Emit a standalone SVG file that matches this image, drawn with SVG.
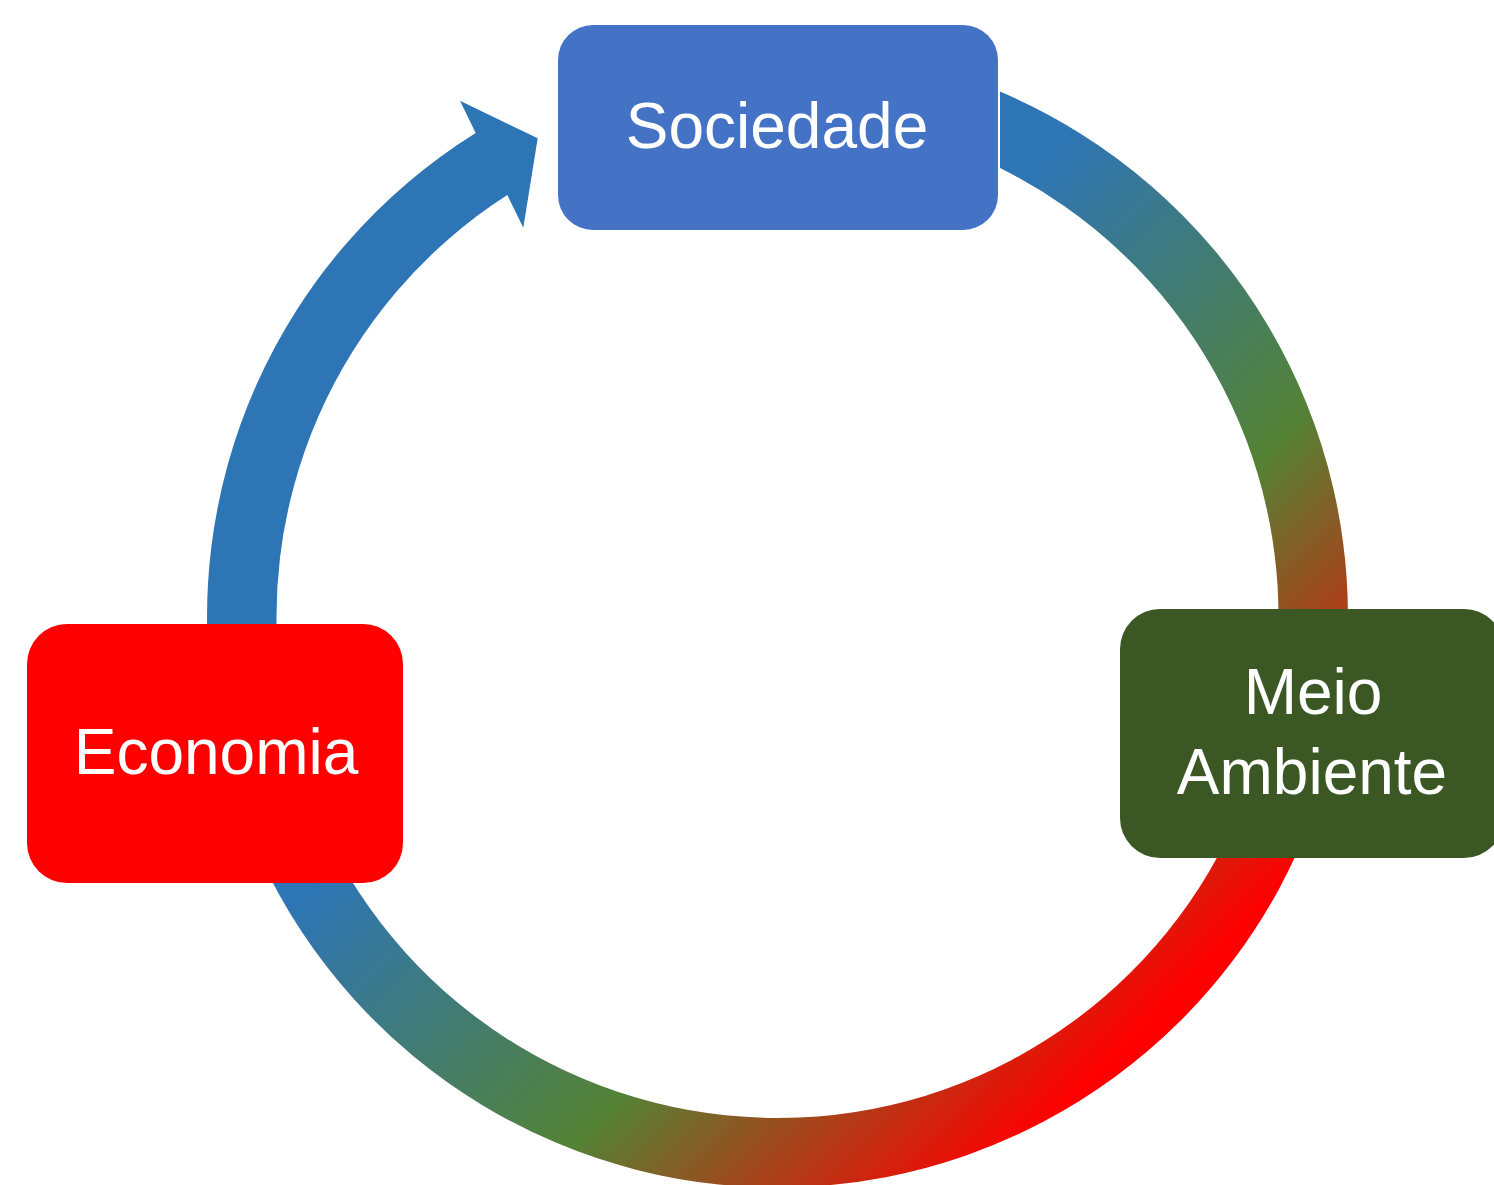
<svg xmlns="http://www.w3.org/2000/svg" width="1494" height="1185" viewBox="0 0 1494 1185">
  <style>
    .lbl { font-family: "Liberation Sans", Arial, sans-serif; font-size: 64px; fill: #FFFFFF; text-anchor: middle; }
  </style>
  <defs>
    <linearGradient id="ring" gradientUnits="userSpaceOnUse" x1="600" y1="600" x2="1085" y2="1085">
      <stop offset="0" stop-color="#2E75B6"/>
      <stop offset="0.536" stop-color="#548235"/>
      <stop offset="1" stop-color="#FF0000"/>
    </linearGradient>
  </defs>
  <rect width="1494" height="1185" fill="#FFFFFF"/>
  <g id="connectors">
    <path id="arrow-economia-sociedade" fill="#2E75B6" d="M 215.7 716.1 A 570.5 570.5 0 0 1 475.7 132.9 L 460 100.7 L 537.7 138.3 L 523.3 227.7 L 507.3 195.1 A 501 501 0 0 0 284.1 704 Z"/>
    <path id="arc-sociedade-meio" fill="url(#ring)" d="M 1000 91.6 A 570.5 570.5 0 0 1 1345.8 666.7 L 1276.6 660.7 A 501 501 0 0 0 1000 168 Z"/>
    <path id="arc-meio-economia" fill="url(#ring)" d="M 1313.6 812.1 A 570.5 570.5 0 0 1 260.45 858.1 L 323.44 828.73 A 501 501 0 0 0 1248.3 788.4 Z"/>
  </g>
  <g id="node-sociedade">
    <rect x="558" y="25" width="440" height="205" rx="35" ry="35" fill="#4472C4"/>
    <text class="lbl" x="777" y="148">Sociedade</text>
  </g>
  <g id="node-economia">
    <rect x="27" y="624" width="376" height="259" rx="40" ry="40" fill="#FF0000"/>
    <text class="lbl" x="216" y="774">Economia</text>
  </g>
  <g id="node-meio-ambiente">
    <rect x="1120" y="609" width="384" height="249" rx="40" ry="40" fill="#3A5724"/>
    <text class="lbl" x="1313" y="714">Meio</text>
    <text class="lbl" x="1312" y="794">Ambiente</text>
  </g>
</svg>
